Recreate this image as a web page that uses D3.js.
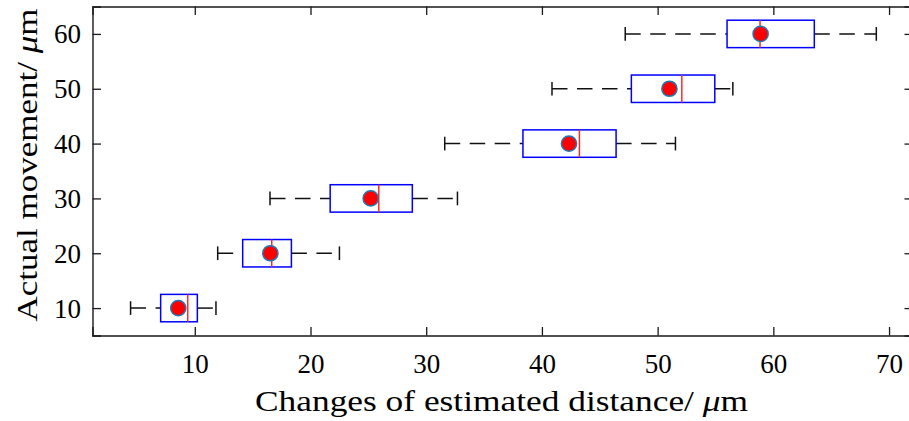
<!DOCTYPE html>
<html>
<head>
<meta charset="utf-8">
<script src="https://cdn.jsdelivr.net/npm/d3@7"></script>
<style>
  html, body { margin: 0; padding: 0; background: #fff; }
  svg { display: block; }
  text { font-family: "Liberation Serif", "Times New Roman", serif; fill: #000; }
</style>
</head>
<body>
<svg id="chart" width="909" height="421"></svg>
<script>
// Box-plot statistics per actual movement step (µm)
const positions = [10, 20, 30, 40, 50, 60];
const whiskerLow = [4.45, 11.98, 16.5, 31.6, 40.87, 47.2];
const quartile1 = [7.05, 14.14, 21.7, 38.36, 47.73, 56.0];
const medians = [9.39, 16.65, 25.9, 43.24, 52.09, 58.85];
const means = [8.57, 16.53, 25.2, 42.34, 51.02, 58.9];
const quartile3 = [10.22, 18.35, 28.8, 46.41, 54.94, 63.54];
const whiskerHigh = [11.83, 22.5, 32.7, 51.54, 56.5, 68.9];

const xTicks = [10, 20, 30, 40, 50, 60, 70];
const yTicks = [10, 20, 30, 40, 50, 60];
const xLabel = "Changes of estimated distance/ ";
const yLabel = "Actual movement/ ";
const unitMu = "\u03bc";
const unitRest = "m";

const boxHeight = 5;   // box thickness in y units
const capHeight = 2.5; // whisker cap length in y units

const rows = positions.map((p, i) => ({
  pos: p, lo: whiskerLow[i], q1: quartile1[i], med: medians[i],
  mean: means[i], q3: quartile3[i], hi: whiskerHigh[i]
}));

const svg = d3.select("#chart");
const plotLeft = 92.5, plotRight = 913, plotTop = 6.5, plotBottom = 335.5;

const x = d3.scaleLinear().domain([1.16, 72.07]).range([plotLeft, plotRight]);
const y = d3.scaleLinear().domain([5, 65]).range([plotBottom, plotTop]);

const tickLen = 8.5;
const axisColor = "#1a1a1a";

// Axes with inward ticks on all four sides
const axBottom = svg.append("g").attr("transform", `translate(0,${plotBottom})`)
  .call(d3.axisBottom(x).tickValues(xTicks).tickSize(-tickLen).tickFormat(d3.format("d")));
const axTop = svg.append("g").attr("transform", `translate(0,${plotTop})`)
  .call(d3.axisTop(x).tickValues(xTicks).tickSize(-tickLen).tickFormat(""));
const axLeft = svg.append("g").attr("transform", `translate(${plotLeft},0)`)
  .call(d3.axisLeft(y).tickValues(yTicks).tickSize(-tickLen).tickFormat(d3.format("d")));
const axRight = svg.append("g").attr("transform", `translate(${plotRight},0)`)
  .call(d3.axisRight(y).tickValues(yTicks).tickSize(-tickLen).tickFormat(""));

[axBottom, axTop, axLeft, axRight].forEach(g => {
  g.select(".domain").attr("stroke", axisColor).attr("stroke-width", 1.4);
  g.selectAll(".tick line").attr("stroke", axisColor).attr("stroke-width", 1.3);
  g.selectAll(".tick text").attr("font-size", 27).attr("font-family", "Liberation Serif, serif").attr("fill", "#000");
});
axBottom.selectAll(".tick text").attr("dy", null).attr("y", 37.5);
axLeft.selectAll(".tick text").attr("dy", "0.33em").attr("x", -11.5);

// Whiskers: dashed lines drawn left-to-right, then caps
const whiskerColor = "#111";
const g = svg.append("g");

g.selectAll("line.wlo").data(rows).join("line").attr("class", "wlo")
  .attr("x1", d => x(d.lo)).attr("x2", d => x(d.q1))
  .attr("y1", d => y(d.pos)).attr("y2", d => y(d.pos))
  .attr("stroke", whiskerColor).attr("stroke-width", 1.5).attr("stroke-dasharray", "15.5,9.5");
g.selectAll("line.whi").data(rows).join("line").attr("class", "whi")
  .attr("x1", d => x(d.q3)).attr("x2", d => x(d.hi))
  .attr("y1", d => y(d.pos)).attr("y2", d => y(d.pos))
  .attr("stroke", whiskerColor).attr("stroke-width", 1.5).attr("stroke-dasharray", "15.5,9.5");

["lo", "hi"].forEach(k => {
  g.selectAll("line.cap" + k).data(rows).join("line").attr("class", "cap" + k)
    .attr("x1", d => x(d[k])).attr("x2", d => x(d[k]))
    .attr("y1", d => y(d.pos - capHeight / 2)).attr("y2", d => y(d.pos + capHeight / 2))
    .attr("stroke", whiskerColor).attr("stroke-width", 1.5);
});

// Boxes
g.selectAll("rect.box").data(rows).join("rect").attr("class", "box")
  .attr("x", d => x(d.q1)).attr("width", d => x(d.q3) - x(d.q1))
  .attr("y", d => y(d.pos + boxHeight / 2)).attr("height", d => y(d.pos - boxHeight / 2) - y(d.pos + boxHeight / 2))
  .attr("fill", "none").attr("stroke", "#0000ff").attr("stroke-width", 1.5);

// Medians
g.selectAll("line.med").data(rows).join("line").attr("class", "med")
  .attr("x1", d => x(d.med)).attr("x2", d => x(d.med))
  .attr("y1", d => y(d.pos + boxHeight / 2)).attr("y2", d => y(d.pos - boxHeight / 2))
  .attr("stroke", "#ff2a2a").attr("stroke-width", 1.5);

// Means
g.selectAll("circle.mean").data(rows).join("circle").attr("class", "mean")
  .attr("cx", d => x(d.mean)).attr("cy", d => y(d.pos)).attr("r", 7.6)
  .attr("fill", "#ff0000").attr("stroke", "#1f77b4").attr("stroke-width", 1.5);

// Axis titles
const xt = svg.append("text").attr("x", 501.5).attr("y", 411).attr("text-anchor", "middle")
  .attr("font-size", 29).attr("textLength", 493).attr("lengthAdjust", "spacingAndGlyphs");
xt.append("tspan").text(xLabel);
xt.append("tspan").attr("font-style", "italic").text(unitMu);
xt.append("tspan").text(unitRest);

const yt = svg.append("text").attr("transform", "translate(37,165) rotate(-90)").attr("text-anchor", "middle")
  .attr("font-size", 30).attr("textLength", 313).attr("lengthAdjust", "spacingAndGlyphs");
yt.append("tspan").text(yLabel);
yt.append("tspan").attr("font-style", "italic").text(unitMu);
yt.append("tspan").text(unitRest);
</script>
</body>
</html>
